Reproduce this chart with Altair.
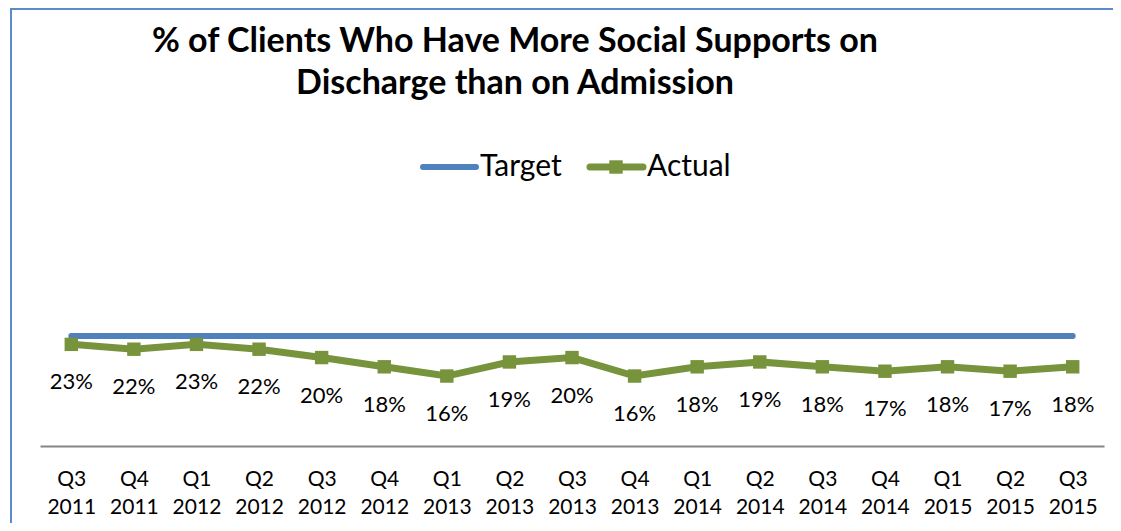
import altair as alt
import pandas as pd

# ---- data ----
quarters = ["Q3 2011", "Q4 2011", "Q1 2012", "Q2 2012", "Q3 2012", "Q4 2012",
            "Q1 2013", "Q2 2013", "Q3 2013", "Q4 2013", "Q1 2014", "Q2 2014",
            "Q3 2014", "Q4 2014", "Q1 2015", "Q2 2015", "Q3 2015"]
actual = [23.1, 22.0, 23.1, 22.0, 20.1, 18.0, 15.9, 19.1, 20.1, 15.9,
          18.0, 19.1, 18.0, 17.0, 18.0, 17.0, 18.0]
target = [25] * len(quarters)
series_names = ["Target", "Actual"]
title_lines = ["% of Clients Who Have More Social Supports on",
               "Discharge than on Admission"]

BLUE = "#4F81BD"
GREEN = "#77933C"
FONT = "Lato"

df = pd.DataFrame({"quarter": quarters, "Actual": actual, "Target": target})

x_enc = alt.X("quarter:N", sort=quarters,
              scale=alt.Scale(type="point", padding=0.5),
              axis=alt.Axis(title=None, ticks=False, grid=False,
                            domainColor="#868686", domainWidth=2,
                            labelExpr="split(datum.label, ' ')",
                            labelFont=FONT, labelFontSize=21, labelColor="#000000",
                            labelLineHeight=28, labelPadding=22, labelAngle=0))
y_scale = alt.Scale(domain=[0, 30], nice=False, zero=True)

base = alt.Chart(df)

target_line = base.mark_line(color=BLUE, strokeWidth=6, strokeCap="round").encode(
    x=x_enc, y=alt.Y("Target:Q", scale=y_scale, axis=None))

actual_line = base.mark_line(color=GREEN, strokeWidth=7).encode(
    x=x_enc, y=alt.Y("Actual:Q", scale=y_scale, axis=None))

actual_pts = base.mark_square(color=GREEN, size=180, opacity=1).encode(
    x=x_enc, y=alt.Y("Actual:Q", scale=y_scale, axis=None))

labels = base.transform_calculate(
    lab="format(round(datum.Actual), 'd') + '%'"
).mark_text(font=FONT, fontSize=22, color="#000000", dy=38, baseline="middle").encode(
    x=x_enc, y=alt.Y("Actual:Q", scale=y_scale, axis=None), text="lab:N")

# chart-area border (partly outside the picture)
border = alt.Chart(pd.DataFrame({"a": [0]})).mark_rect(
    fill=None, stroke="#5B8BC8", strokeWidth=2).encode(
    x=alt.value(-29), x2=alt.value(1200), y=alt.value(-305), y2=alt.value(400))

# title
title1 = alt.Chart(pd.DataFrame({"t": [title_lines[0]]})).mark_text(
    font=FONT, fontSize=34, fontWeight="bold", color="#000000", align="center",
    baseline="middle").encode(text="t:N", x=alt.value(475), y=alt.value(-272))
title2 = alt.Chart(pd.DataFrame({"t": [title_lines[1]]})).mark_text(
    font=FONT, fontSize=34, fontWeight="bold", color="#000000", align="center",
    baseline="middle").encode(text="t:N", x=alt.value(475), y=alt.value(-230))

# legend
ly = -147
leg_target = alt.Chart(pd.DataFrame({"a": [0]})).mark_rule(
    color=BLUE, strokeWidth=6, strokeCap="round").encode(
    x=alt.value(383), x2=alt.value(436), y=alt.value(ly))
leg_actual = alt.Chart(pd.DataFrame({"a": [0]})).mark_rule(
    color=GREEN, strokeWidth=7, strokeCap="round").encode(
    x=alt.value(550), x2=alt.value(603), y=alt.value(ly))
leg_sq = alt.Chart(pd.DataFrame({"a": [0]})).mark_square(
    color=GREEN, size=180, opacity=1).encode(x=alt.value(576), y=alt.value(ly))
leg_t1 = alt.Chart(pd.DataFrame({"t": [series_names[0]]})).mark_text(
    font=FONT, fontSize=30, color="#000000", align="left", baseline="middle").encode(
    text="t:N", x=alt.value(440), y=alt.value(ly))
leg_t2 = alt.Chart(pd.DataFrame({"t": [series_names[1]]})).mark_text(
    font=FONT, fontSize=30, color="#000000", align="left", baseline="middle").encode(
    text="t:N", x=alt.value(607), y=alt.value(ly))

chart = alt.layer(
    border, target_line, actual_line, actual_pts, labels,
    title1, title2, leg_target, leg_actual, leg_sq, leg_t1, leg_t2
).properties(
    width=1064, height=132,
    autosize=alt.AutoSizeParams(type="none"),
    padding={"left": 32, "top": 306, "right": 9, "bottom": 77},
    background="#FFFFFF",
).configure_view(stroke=None)

chart.save("out.html", embed_options={"renderer": "svg", "actions": False})
